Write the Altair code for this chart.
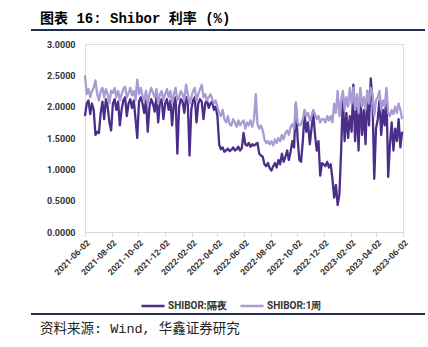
import altair as alt
import pandas as pd

start_date = "2021-06-02"
step = "4D"

overnight = [
    1.85, 2.05, 2.10, 1.88, 2.05, 1.95, 1.55, 1.60, 1.58, 1.90, 2.08, 1.80, 2.12, 2.00, 1.75, 1.62,
    2.05, 2.12, 1.95, 2.08, 1.70, 1.95, 2.10, 2.15, 1.85, 2.05, 2.12, 1.98, 2.10, 1.80, 1.50,
    2.08, 2.15, 2.05, 1.90, 2.10, 1.60, 2.00, 2.12, 2.05, 1.92, 2.15, 1.75, 2.08, 2.12, 1.80,
    2.05, 2.12, 1.95, 2.10, 1.70, 2.05, 2.15, 1.25, 2.00, 2.12, 2.08, 1.90, 2.15, 2.05, 1.22,
    1.95, 2.10, 2.15, 1.75, 2.05, 2.12, 2.08, 1.80, 2.05, 2.10, 1.98, 2.05, 2.08, 1.95, 2.00,
    1.85, 1.40, 1.32, 1.35, 1.28, 1.30, 1.33, 1.29, 1.31, 1.35, 1.30, 1.32, 1.36, 1.30, 1.34,
    1.58, 1.40, 1.38, 1.42, 1.36, 1.40, 1.38, 1.40, 1.42, 1.25, 1.22, 1.20, 1.08, 1.05, 1.10,
    1.02, 0.98, 1.05, 1.10, 1.03, 1.15, 1.08, 1.25, 1.12, 1.20, 1.30, 1.15, 1.28, 1.45, 1.35, 2.05,
    1.50, 1.15, 1.12, 1.45, 1.88, 1.60, 1.75, 1.40, 1.65, 1.90, 1.55, 1.30, 1.45, 0.90, 1.10,
    1.08, 1.05, 1.12, 1.03, 1.08, 0.85, 0.55, 0.75, 0.43, 0.60, 1.30, 2.15, 1.45, 1.90, 1.50, 1.85,
    1.60, 2.35, 1.45, 2.05, 1.30, 2.20, 1.55, 1.95, 1.40, 2.25, 1.70, 2.45, 2.10, 0.85, 1.65,
    1.80, 2.10, 1.55, 1.95, 1.70, 2.25, 0.88, 1.40, 1.75, 1.30, 1.65, 1.45, 1.80, 1.35, 1.60,
]
one_week = [
    2.50, 2.20, 2.28, 2.15, 2.25, 2.30, 2.42, 2.20, 2.10, 2.25, 2.30, 2.15, 2.28, 2.20, 2.05, 2.25,
    2.22, 2.30, 2.15, 2.25, 2.10, 2.20, 2.28, 2.32, 2.15, 2.22, 2.30, 2.18, 2.25, 2.10, 2.43,
    2.20, 2.30, 2.18, 2.10, 2.25, 2.05, 2.20, 2.30, 2.22, 2.15, 2.28, 2.05, 2.20, 2.25, 2.10,
    2.20, 2.28, 2.15, 2.25, 2.05, 2.20, 2.30, 2.10, 2.15, 2.25, 2.20, 2.10, 2.35, 2.20, 2.05,
    2.15, 2.25, 2.30, 2.10, 2.20, 2.28, 2.35, 2.15, 2.20, 2.10, 2.15, 2.20, 2.12, 2.05, 2.10,
    2.00, 1.90, 1.85, 1.95, 1.80, 1.75, 1.85, 1.72, 1.70, 1.80, 1.75, 1.68, 1.78, 1.70, 1.75,
    1.78, 1.65, 1.75, 1.70, 1.78, 1.68, 1.80, 2.20, 1.72, 1.65, 1.70, 1.62, 1.48, 1.42, 1.45,
    1.40, 1.45, 1.38, 1.48, 1.42, 1.50, 1.45, 1.55, 1.48, 1.58, 1.62, 1.55, 1.68, 1.72, 1.65, 2.07,
    1.75, 1.70, 1.72, 1.80, 1.95, 1.85, 1.90, 1.78, 1.85, 1.95, 1.88, 1.80, 1.85, 1.75, 1.80,
    1.80, 1.75, 1.85, 1.78, 1.85, 1.75, 2.05, 1.90, 2.25, 1.85, 2.10, 2.25, 1.95, 2.15, 2.00, 2.30,
    2.05, 2.30, 1.95, 2.20, 1.90, 2.30, 2.00, 2.15, 1.95, 2.25, 2.05, 2.30, 2.20, 1.85, 2.10,
    2.15, 2.25, 1.95, 2.10, 2.00, 2.30, 1.90, 1.85, 1.95, 1.88, 2.00, 1.90, 2.05, 1.95, 1.80,
]
series_names = ["SHIBOR:隔夜", "SHIBOR:1周"]
series_colors = ["#4B2D8A", "#A99BD3"]
tick_dates = ["2021-06-02", "2021-08-02", "2021-10-02", "2021-12-02",
              "2022-02-02", "2022-04-02", "2022-06-02", "2022-08-02",
              "2022-10-02", "2022-12-02", "2023-02-02", "2023-04-02",
              "2023-06-02"]
y_ticks = [0, 0.5, 1.0, 1.5, 2.0, 2.5, 3.0]
title_text = "图表 16: Shibor 利率 (%)"
source_text = "资料来源: Wind, 华鑫证券研究"

n = min(len(overnight), len(one_week))
dates = pd.date_range(start_date, periods=n, freq=step).strftime("%Y-%m-%d")
df = pd.concat([
    pd.DataFrame({"date": dates, "value": overnight[:n], "series": series_names[0], "k": 0}),
    pd.DataFrame({"date": dates, "value": one_week[:n], "series": series_names[1], "k": 1}),
])

def dt(s):
    y, m, d = map(int, s.split("-"))
    return alt.DateTime(year=y, month=m, date=d, utc=True)

W, H = 318, 188

lines = alt.Chart(df).mark_line(strokeWidth=2.3, strokeJoin="round").encode(
    x=alt.X("date:T",
            scale=alt.Scale(type="utc", domain=[dt(tick_dates[0]), dt(tick_dates[-1])]),
            axis=alt.Axis(title=None, values=[dt(t) for t in tick_dates], format="%Y-%m-%d",
                          labelAngle=-45, labelFont="Roboto", labelFontWeight="bold",
                          labelFontSize=8.5, labelColor="#333333", labelPadding=2,
                          domainColor="#d9d9d9", tickColor="#d9d9d9", tickSize=4,
                          grid=False, labelOverlap=False)),
    y=alt.Y("value:Q", scale=alt.Scale(domain=[0, 3]),
            axis=alt.Axis(title=None, values=y_ticks, format=".4f", grid=False,
                          domain=False, ticks=False, labelPadding=10,
                          labelFont="Roboto", labelFontWeight="bold", labelFontSize=9,
                          labelColor="#333333")),
    color=alt.Color("series:N", scale=alt.Scale(domain=series_names, range=series_colors),
                    sort=series_names,
                    legend=alt.Legend(title=None, orient="none", legendX=55, legendY=249,
                                      direction="horizontal", symbolType="stroke",
                                      symbolSize=529, symbolStrokeWidth=2.5,
                                      labelFont="Roboto", labelFontWeight="bold",
                                      labelFontSize=10, labelColor="#333333",
                                      columnPadding=8, labelOffset=2)),
)

one = pd.DataFrame({"a": [0]})
title = alt.Chart(one).mark_text(align="left", baseline="alphabetic", fontSize=14,
                                 fontWeight="bold", font="Liberation Mono, Noto Sans CJK SC",
                                 color="#000000").encode(
    x=alt.value(-45), y=alt.value(-21), text=alt.value(title_text))
source = alt.Chart(one).mark_text(align="left", baseline="alphabetic", fontSize=13.5,
                                  font="Liberation Mono, Noto Sans CJK SC",
                                  color="#222222").encode(
    x=alt.value(-45), y=alt.value(289), text=alt.value(source_text))
rule_top = alt.Chart(one).mark_rule(color="#1F2D50", strokeWidth=2).encode(
    x=alt.value(-54), x2=alt.value(340), y=alt.value(-14))
rule_bot = alt.Chart(one).mark_rule(color="#1F2D50", strokeWidth=2).encode(
    x=alt.value(-54), x2=alt.value(340), y=alt.value(270))

chart = alt.layer(lines, title, source, rule_top, rule_bot).properties(
    width=W, height=H,
    autosize=alt.AutoSizeParams(type="none"),
    padding={"left": 85, "top": 44, "right": 25, "bottom": 115},
).configure_view(stroke=None).configure(background="white")

chart.save("out.html", embed_options={"renderer": "svg", "actions": False})
